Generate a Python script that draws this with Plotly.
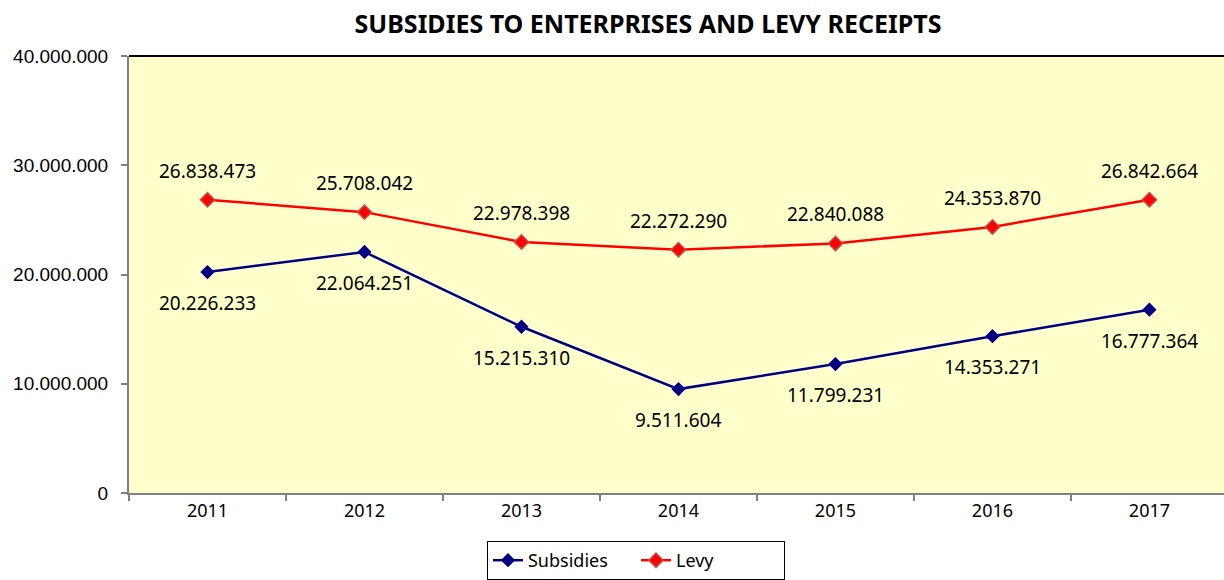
import plotly.graph_objects as go

years = ["2011", "2012", "2013", "2014", "2015", "2016", "2017"]
subsidies = [20226233, 22064251, 15215310, 9511604, 11799231, 14353271, 16777364]
levy = [26838473, 25708042, 22978398, 22272290, 22840088, 24353870, 26842664]
y_ticks = [0, 10000000, 20000000, 30000000, 40000000]
y_tick_labels = ["0", "10.000.000", "20.000.000", "30.000.000", "40.000.000"]


def fmt(v):
    return f"{v:,}".replace(",", ".")


fig = go.Figure()
fig.add_trace(go.Scatter(
    x=years, y=subsidies, name="Subsidies", mode="lines+markers",
    line=dict(color="#000080", width=2.5),
    marker=dict(symbol="diamond", size=11, color="#000080"),
))
fig.add_trace(go.Scatter(
    x=years, y=levy, name="Levy", mode="lines+markers",
    line=dict(color="#FF0000", width=2.5),
    marker=dict(symbol="diamond", size=11, color="#FF0000",
                line=dict(color="#C0504D", width=1.5)),
))

label_font = dict(family="Noto Sans", size=19, color="black")
for i, v in enumerate(subsidies):
    fig.add_annotation(x=i, y=v, xref="x", yref="y", text=fmt(v), showarrow=False,
                       yshift=-31, font=label_font)
for i, v in enumerate(levy):
    fig.add_annotation(x=i, y=v, xref="x", yref="y", text=fmt(v), showarrow=False,
                       yshift=29, font=label_font)

fig.update_layout(
    width=1224, height=580,
    paper_bgcolor="white", plot_bgcolor="#FFFFCC",
    margin=dict(l=129, r=0, t=56, b=84),
    title=dict(text="<b>SUBSIDIES TO ENTERPRISES AND LEVY RECEIPTS</b>",
               x=648 / 1224, xanchor="center", y=1 - 24 / 580, yanchor="middle",
               font=dict(family="Noto Sans", size=25, color="black")),
    showlegend=True,
    legend=dict(orientation="h", x=0.463, xanchor="center", y=-0.11, yanchor="top",
                bordercolor="black", borderwidth=1, bgcolor="white",
                entrywidth=103, entrywidthmode="pixels",
                font=dict(family="Noto Sans", size=18, color="black")),
    font=dict(family="Liberation Sans"),
)
fig.update_xaxes(
    type="category", range=[-0.5, 6.475], showgrid=False,
    showline=True, linecolor="#808080", linewidth=2,
    ticks="outside", tickson="boundaries", ticklen=6, tickcolor="#808080", tickwidth=2,
    tickfont=dict(family="Noto Sans", size=18, color="black"),
)
fig.update_yaxes(
    range=[0, 40000000], tickvals=y_ticks, ticktext=y_tick_labels,
    showgrid=False, showline=True, linecolor="#808080", linewidth=2,
    ticks="outside", ticklen=6, tickcolor="#808080", tickwidth=2,
    ticklabelstandoff=9,
    tickfont=dict(family="Liberation Sans", size=19, color="black"),
    zeroline=False,
)
# black top border of the plot area
fig.add_shape(type="line", xref="paper", yref="paper", x0=0, x1=1, y0=1, y1=1,
              line=dict(color="black", width=2))

fig.write_html("out.html", config={"displayModeBar": False},
               post_script="document.body.style.margin='0';document.body.style.overflow='hidden';")
